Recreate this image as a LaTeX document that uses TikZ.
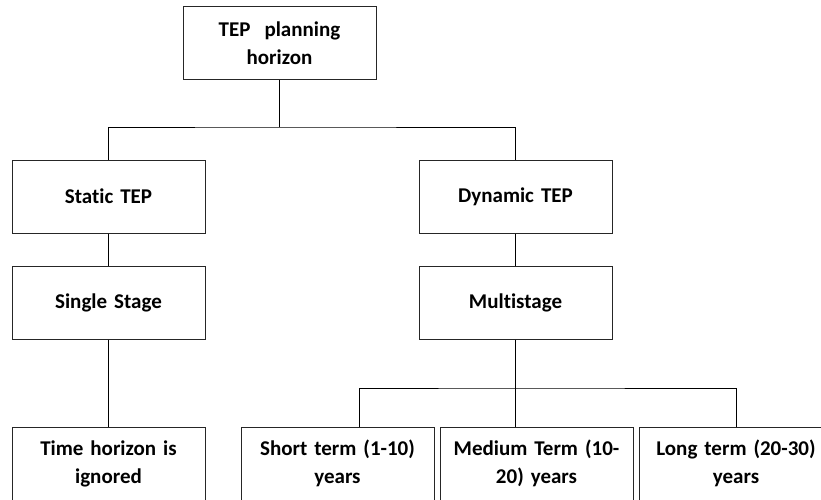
\documentclass[tikz,border=0pt]{standalone}
\usepackage{fontspec}
\setmainfont[Ligatures={TeX,NoCommon},WordSpace={0.85,0,0}]{Carlito}
\begin{document}
\begin{tikzpicture}[x=1pt,y=-1pt,
  box/.style={draw=black!85, line width=1pt, fill=white, rectangle,
    minimum width=193pt, minimum height=73pt, inner sep=2pt,
    text width=186pt, align=center,
    font=\fontsize{21}{28}\selectfont\bfseries},
  link/.style={draw=black, line width=1pt}]
\clip (0,0) rectangle (821,500);
\fill[white] (0,0) rectangle (821,500);

% levels of the planning horizon tree
\node[box] (top)     at (279.5,43.5)  {TEP~~planning\\horizon};
\node[box] (static)  at (108.5,196.5) {Static TEP};
\node[box] (dynamic) at (515.5,196.5) {Dynamic TEP};
\node[box] (single)  at (108.5,302.5) {Single Stage};
\node[box] (multi)   at (515.5,302.5) {Multistage};
\node[box] (time)    at (108.5,463.5) {Time horizon is\\ignored};
\node[box] (short)   at (337.5,463.5) {Short term (1-10)\\years};
\node[box] (medium)  at (536.5,463.5) {Medium Term (10-\\20) years};
\node[box] (long)    at (736,463.5)   {Long term (20-30)\\years};

% junction points of the elbow connectors
\coordinate (j1) at (279.5,127);
\coordinate (j2) at (515.5,388);
\coordinate (s1) at (359,427);

\draw[link] (top.south) -- (j1);
\draw[link] (static.north) |- (j1) -| (dynamic.north);
\draw[link] (static.south) -- (single.north);
\draw[link] (dynamic.south) -- (multi.north);
\draw[link] (single.south) -- (time.north);
\draw[link] (multi.south) -- (multi.south |- medium.north);
\draw[link] (s1) |- (j2) -| (long.north);
\end{tikzpicture}
\end{document}
